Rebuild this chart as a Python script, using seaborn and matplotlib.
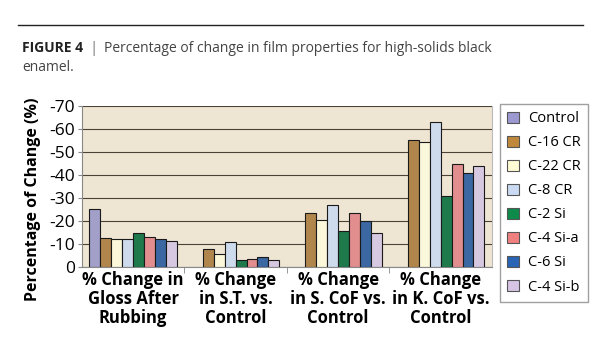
import numpy as np
import pandas as pd
import matplotlib
matplotlib.use('Agg')
import matplotlib.pyplot as plt
import seaborn as sns
from matplotlib.patches import Patch

# ---- data ----
categories = ['% Change in\nGloss After\nRubbing',
              '% Change\nin S.T. vs.\nControl',
              '% Change\nin S. CoF vs.\nControl',
              '% Change\nin K. CoF vs.\nControl']
series = ['Control', 'C-16 CR', 'C-22 CR', 'C-8 CR',
          'C-2 Si', 'C-4 Si-a', 'C-6 Si', 'C-4 Si-b']

control  = [-25.0, np.nan, np.nan, np.nan]
c16_cr   = [-12.4, -7.7, -23.4, -55.2]
c22_cr   = [-12.0, -5.6, -20.5, -54.4]
c8_cr    = [-12.3, -11.0, -26.8, -62.8]
c2_si    = [-14.9, -2.9, -15.8, -30.7]
c4_si_a  = [-12.9, -3.5, -23.3, -44.8]
c6_si    = [-12.3, -4.2, -19.8, -40.8]
c4_si_b  = [-11.4, -2.9, -14.9, -43.8]

colors = ['#9C98D0', '#C0883C', '#FFFBD5', '#C9DAF2',
          '#0E8A4A', '#F08080', '#2A64B4', '#D7C4E4']

values = [control, c16_cr, c22_cr, c8_cr, c2_si, c4_si_a, c6_si, c4_si_b]
rows = []
for name, vals in zip(series, values):
    for cat, v in zip(categories, vals):
        rows.append({'cat': cat, 'series': name, 'val': v})
df = pd.DataFrame(rows)

plt.rcParams['font.family'] = ['Open Sans', 'DejaVu Sans']
plt.rcParams['axes.unicode_minus'] = False

fig = plt.figure(figsize=(6.15, 3.5), dpi=100)
ax = fig.add_axes([0.133, 0.237, 0.667, 0.461])

sns.barplot(data=df, x='cat', y='val', hue='series', order=categories,
            hue_order=series, palette=dict(zip(series, colors)),
            width=0.85, gap=0, edgecolor='#1a1a1a', linewidth=0.8,
            errorbar=None, ax=ax, legend=False, zorder=3)

ax.set_facecolor('#EFE5D3')
ax.set_ylim(0, -70)
ax.set_yticks(np.arange(0, -71, -10))
ax.set_yticklabels([str(t) for t in range(0, -71, -10)])
ax.grid(axis='y', color='#4a4236', linewidth=0.8, zorder=0)
ax.set_axisbelow(True)
ax.set_xlim(-0.5, 3.5)

for s in ['left', 'bottom']:
    ax.spines[s].set_color('#888888')
ax.spines['right'].set_color('#bbbbbb')
ax.spines['top'].set_visible(False)

ax.tick_params(axis='y', labelsize=12.5, length=3, color='#888888', pad=2)
ax.tick_params(axis='x', length=0, pad=3)
ax.set_xticks([0.5, 1.5, 2.5], minor=True)
ax.tick_params(axis='x', which='minor', length=4, color='#888888')
for lab in ax.get_xticklabels():
    lab.set_fontweight('bold')
    lab.set_fontsize(12)
    lab.set_linespacing(1.05)

ax.set_xlabel('')
ax.set_ylabel('Percentage of Change (%)', fontsize=11.5, fontweight='bold')
ax.yaxis.set_label_coords(-0.1, 0.42)

handles = [Patch(facecolor=c, edgecolor='#555555', linewidth=0.8) for c in colors]
leg = fig.legend(handles, series, loc='upper left', bbox_to_anchor=(0.813, 0.703),
                 fontsize=10.5, frameon=True, fancybox=False, handlelength=0.8,
                 handleheight=0.8, handletextpad=0.6, labelspacing=0.62,
                 borderpad=0.5, borderaxespad=0)
leg.get_frame().set_edgecolor('#888888')
leg.get_frame().set_linewidth(1)

# caption: lay the pieces out one after another
fig.add_artist(plt.Line2D([0.03, 0.948], [0.928, 0.928], color='#222222', linewidth=1))
fig.canvas.draw()
renderer = fig.canvas.get_renderer()
W = fig.bbox.width

t1 = fig.text(0.036, 0.862, 'FIGURE 4', fontsize=10, fontweight='bold',
              color='#222222', va='center')
x_next = t1.get_window_extent(renderer).x1 / W + 6 / W
t2 = fig.text(x_next, 0.862, '|', fontsize=11, color='#777777', va='center')
x_next = t2.get_window_extent(renderer).x1 / W + 6 / W
fig.text(x_next, 0.862, 'Percentage of change in film properties for high-solids black',
         fontsize=10, color='#444444', va='center')
fig.text(0.036, 0.808, 'enamel.', fontsize=10, color='#444444', va='center')

fig.savefig('out.png', dpi=100)
